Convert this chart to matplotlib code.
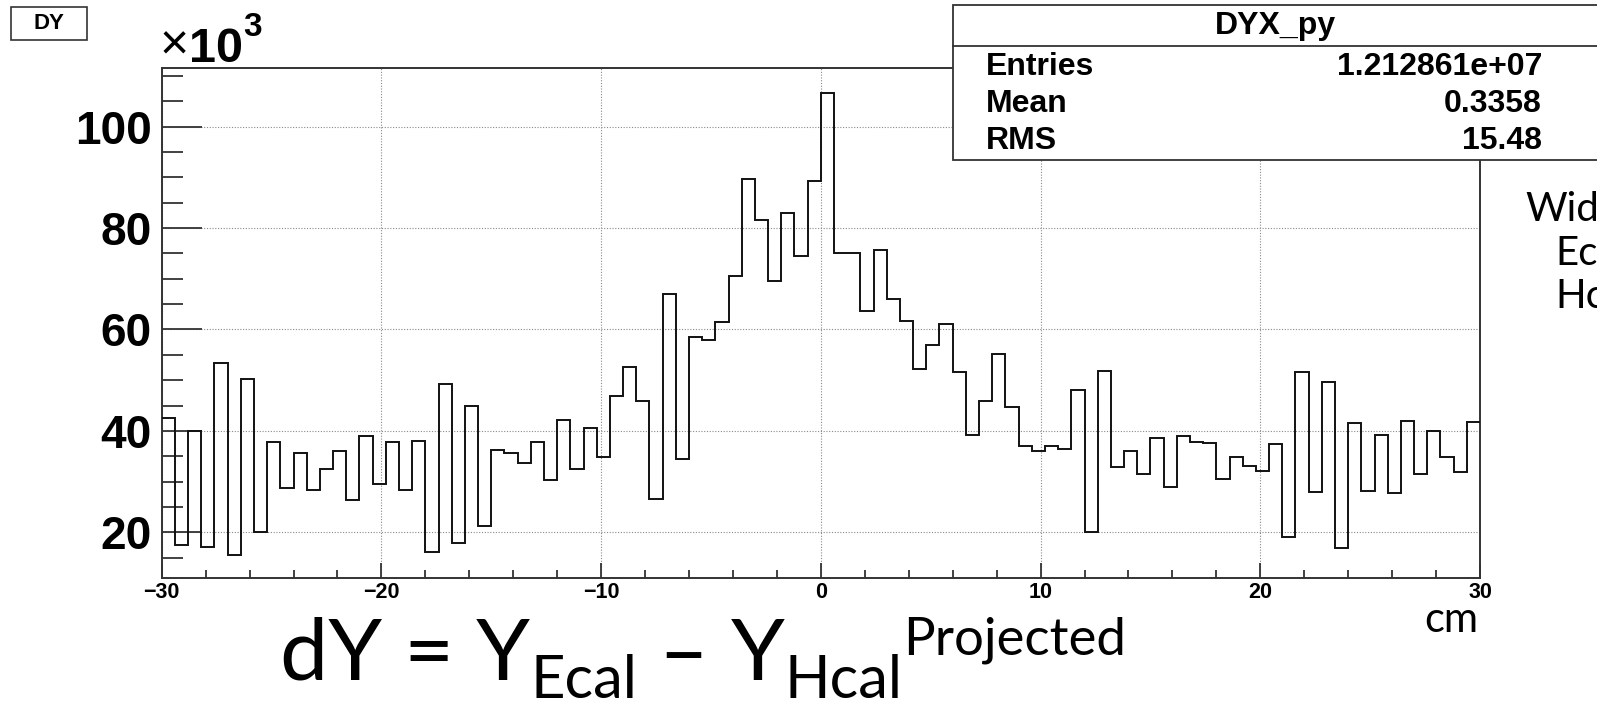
import numpy as np
import matplotlib
matplotlib.use('Agg')
import matplotlib.pyplot as plt
from matplotlib.patches import Rectangle
from matplotlib.lines import Line2D
from matplotlib.ticker import MultipleLocator

# dY histogram (100 bins of 0.6 cm from -30 to 30), counts in units of 10^3
x_lo, x_hi = -30, 30
counts_k = [42.5, 17.5, 40.0, 17.1, 53.4, 15.6, 50.2, 20.0, 37.9, 28.7,
            35.7, 28.3, 32.4, 36.1, 26.3, 38.9, 29.5, 37.8, 28.3, 38.1,
            16.2, 49.2, 17.9, 44.9, 21.2, 36.3, 35.7, 33.6, 37.8, 30.3,
            42.2, 32.4, 40.6, 34.8, 46.8, 52.5, 45.8, 26.6, 66.9, 34.5,
            58.6, 57.9, 61.4, 70.6, 89.7, 81.5, 69.5, 82.9, 74.5, 89.2,
            106.6, 75.0, 75.0, 63.7, 75.7, 66.1, 61.7, 52.3, 56.9, 61.0,
            51.7, 39.1, 45.8, 55.1, 44.8, 37.0, 36.1, 37.1, 36.5, 48.0,
            20.0, 51.9, 32.8, 36.1, 31.6, 38.6, 29.0, 38.9, 37.8, 37.6,
            30.5, 34.8, 33.1, 32.1, 37.4, 19.0, 51.6, 27.9, 49.7, 16.9,
            41.5, 28.1, 39.1, 27.7, 42.0, 31.6, 39.9, 34.8, 31.9, 41.8]
x_ticks = [-30, -20, -10, 0, 10, 20, 30]
y_ticks = [20, 40, 60, 80, 100]

hist_name = "DY"
stats_title = "DYX_py"
stats_rows = [("Entries", "1.212861e+07"), ("Mean", "0.3358"), ("RMS", "15.48")]

W, H = 1597, 707
fig = plt.figure(figsize=(W / 100, H / 100), dpi=100)


def fx(x):
    return x / W


def fy(y):
    return 1 - y / H


ROOT_FONT = "Liberation Sans"
NARROW = ["Liberation Sans Narrow", "Liberation Sans"]
SLIDE_FONT = "Lato"

# main frame
left, right, top, bottom = 161.7, 1480, 67.7, 578
ax = fig.add_axes([fx(left), fy(bottom), fx(right - left), (bottom - top) / H])
edges = np.linspace(x_lo, x_hi, len(counts_k) + 1)
ax.stairs(counts_k, edges, color="#111111", lw=1.4, baseline=None, zorder=3)
ax.set_xlim(x_lo, x_hi)
ax.set_ylim(11.0, 111.6)
ax.set_xticks(x_ticks)
ax.set_yticks(y_ticks)
ax.xaxis.set_minor_locator(MultipleLocator(2))
ax.yaxis.set_minor_locator(MultipleLocator(5))
ax.grid(True, which="major", ls=(0, (1, 1.5)), color="#8a8a8a", lw=0.8)
for s in ax.spines.values():
    s.set_linewidth(1.4)
    s.set_color("#333333")
ax.tick_params(axis="both", which="both", direction="in", top=False, right=False,
               color="#333333", width=1.3)
ax.tick_params(axis="y", which="major", length=29, pad=7)
ax.tick_params(axis="y", which="minor", length=15)
ax.tick_params(axis="x", which="major", length=11, pad=3)
ax.tick_params(axis="x", which="minor", length=6)
for lab in ax.get_yticklabels():
    lab.set_fontfamily(NARROW)
    lab.set_fontweight("bold")
    lab.set_fontsize(33)
for lab in ax.get_xticklabels():
    lab.set_fontfamily(ROOT_FONT)
    lab.set_fontweight("bold")
    lab.set_fontsize(15.5)

renderer = fig.canvas.get_renderer()


def chain(x, pieces):
    # place text pieces one after another, return right edge in px
    for txt, size, base, kw in pieces:
        t = fig.text(fx(x), fy(base), txt, fontsize=size, va="baseline", ha="left", **kw)
        bb = t.get_window_extent(renderer=renderer)
        x = bb.x1
    return x


# x10^3 multiplier
chain(160, [("×", 36, 60, dict(family=ROOT_FONT)),
            ("10", 35, 62, dict(family=NARROW, weight="bold")),
            ("3", 24, 36, dict(family=NARROW, weight="bold"))])

# histogram name box
fig.add_artist(Rectangle((fx(11), fy(39.5)), fx(76), 33 / H, transform=fig.transFigure,
                         fill=True, facecolor="white", edgecolor="#333333", lw=1.2, zorder=5))
fig.text(fx(49), fy(23.5), hist_name, family=ROOT_FONT, weight="bold", fontsize=16,
         ha="center", va="center", zorder=6)

# stats box
bx0, by0, bx1, by1 = 953, 5, 1600, 160
fig.add_artist(Rectangle((fx(bx0), fy(by1)), fx(bx1 - bx0), (by1 - by0) / H,
                         transform=fig.transFigure, facecolor="white",
                         edgecolor="#333333", lw=1.3, zorder=5))
fig.add_artist(Line2D([fx(bx0), fx(bx1)], [fy(46), fy(46)], transform=fig.transFigure,
                      color="#333333", lw=1.3, zorder=6))
fig.text(fx(1275), fy(26), stats_title, family=ROOT_FONT, weight="bold", fontsize=23,
         ha="center", va="center", zorder=7)
for i, (name, val) in enumerate(stats_rows):
    yy = 67 + 37 * i
    fig.text(fx(986), fy(yy), name, family=ROOT_FONT, weight="bold", fontsize=23,
             ha="left", va="center", zorder=7)
    fig.text(fx(1542), fy(yy), val, family=ROOT_FONT, weight="bold", fontsize=23,
             ha="right", va="center", zorder=7)

# slide text (cut off by the right edge, as in the source slide)
fig.text(fx(1525), fy(221), "Wid", family=SLIDE_FONT, fontsize=29, va="baseline")
fig.text(fx(1555), fy(265), "Ec", family=SLIDE_FONT, fontsize=29, va="baseline")
fig.text(fx(1555), fy(308), "Hc", family=SLIDE_FONT, fontsize=29, va="baseline")
fig.text(fx(1451), fy(632), "cm", family=SLIDE_FONT, fontsize=30, va="baseline", ha="center")

big, sub, sup = 62, 43, 38
chain(280, [("dY = Y", big, 680, dict(family=SLIDE_FONT)),
            ("Ecal", sub, 698, dict(family=SLIDE_FONT)),
            (" – Y", big, 680, dict(family=SLIDE_FONT)),
            ("Hcal", sub, 698, dict(family=SLIDE_FONT)),
            ("Projected", sup, 655, dict(family=SLIDE_FONT))])

fig.savefig("out.png", dpi=100)
